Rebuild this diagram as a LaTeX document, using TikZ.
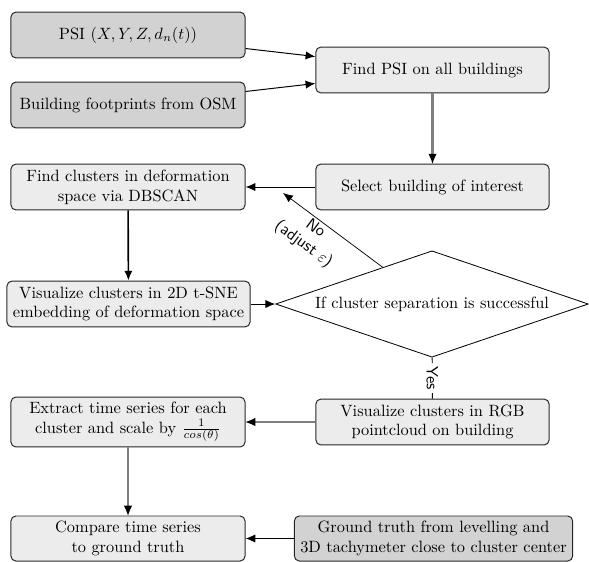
\documentclass[tikz,border=0pt]{standalone}
\usetikzlibrary{shapes.geometric,arrows.meta}
\begin{document}
\begin{tikzpicture}[x=0.611pt,y=-0.611pt,
  box/.style={draw=black!85,rounded corners=3pt,line width=0.6pt,align=center,inner sep=2pt,minimum height=28pt},
  darkbox/.style={box,fill=gray!35},
  lightbox/.style={box,fill=gray!15},
  dec/.style={draw,shape=diamond,shape aspect=2.94,line width=0.5pt,inner sep=0pt,minimum width=191pt,minimum height=65pt,fill=white},
  arr/.style={-{Latex[length=6pt,width=5pt]},line width=0.6pt},
  garr/.style={draw=gray,line width=1.3pt,-{Latex[length=6pt,width=5pt,line width=0pt,fill=black,color=black]}},
  lab/.style={font=\sffamily,align=center}]
\useasboundingbox (0,0) rectangle (589,561);
\node[darkbox,minimum width=143pt] (psi) at (128,35) {PSI $(X,Y,Z,d_n(t))$};
\node[darkbox,minimum width=143pt] (osm) at (128,105) {Building footprints from OSM};
\node[lightbox,minimum width=142.5pt] (find) at (432.5,70) {Find PSI on all buildings};
\node[lightbox,minimum width=142.5pt] (sel) at (432.5,187) {Select building of interest};
\node[lightbox,minimum width=143pt] (clu) at (128,187) {Find clusters in deformation\\space via DBSCAN};
\node[lightbox,minimum width=148.5pt] (vis) at (128.5,304) {Visualize clusters in 2D t-SNE\\embedding of deformation space};
\node[dec] (dia) at (432,304) {If cluster separation is successful};
\node[lightbox,minimum width=142.5pt] (rgb) at (432.5,422) {Visualize clusters in RGB\\pointcloud on building};
\node[lightbox,minimum width=143pt,minimum height=30.5pt] (ext) at (128,422) {Extract time series for each\\cluster and scale by $\frac{1}{cos(\theta)}$};
\node[lightbox,minimum width=143pt,minimum height=27.5pt] (cmp) at (128,538.5) {Compare time series\\to ground truth};
\node[darkbox,minimum width=170pt,minimum height=27.5pt] (gt) at (433.5,538.5) {Ground truth from levelling and\\3D tachymeter close to cluster center};
\coordinate (noend) at (283,193);
\draw[arr] (psi) -- (find);
\draw[arr] (osm) -- (find);
\draw[garr] (find) -- (sel);
\draw[arr] (sel) -- (clu);
\draw[arr,line width=1pt] (clu) -- (vis);
\draw[arr] (vis) -- (dia);
\draw[-{Latex[length=6pt,width=5pt]},line width=0.45pt] (dia) -- (noend)
  node[lab,pos=0.62,sloped,below,inner sep=1pt] {No\\(adjust $\varepsilon$)};
\draw[line width=0.6pt] (dia) -- (rgb) node[lab,midway,sloped,fill=white,inner sep=2pt] {Yes};
\draw[garr] (rgb) -- (ext);
\draw[garr] (ext) -- (cmp);
\draw[arr] (gt) -- (cmp);
\end{tikzpicture}
\end{document}
